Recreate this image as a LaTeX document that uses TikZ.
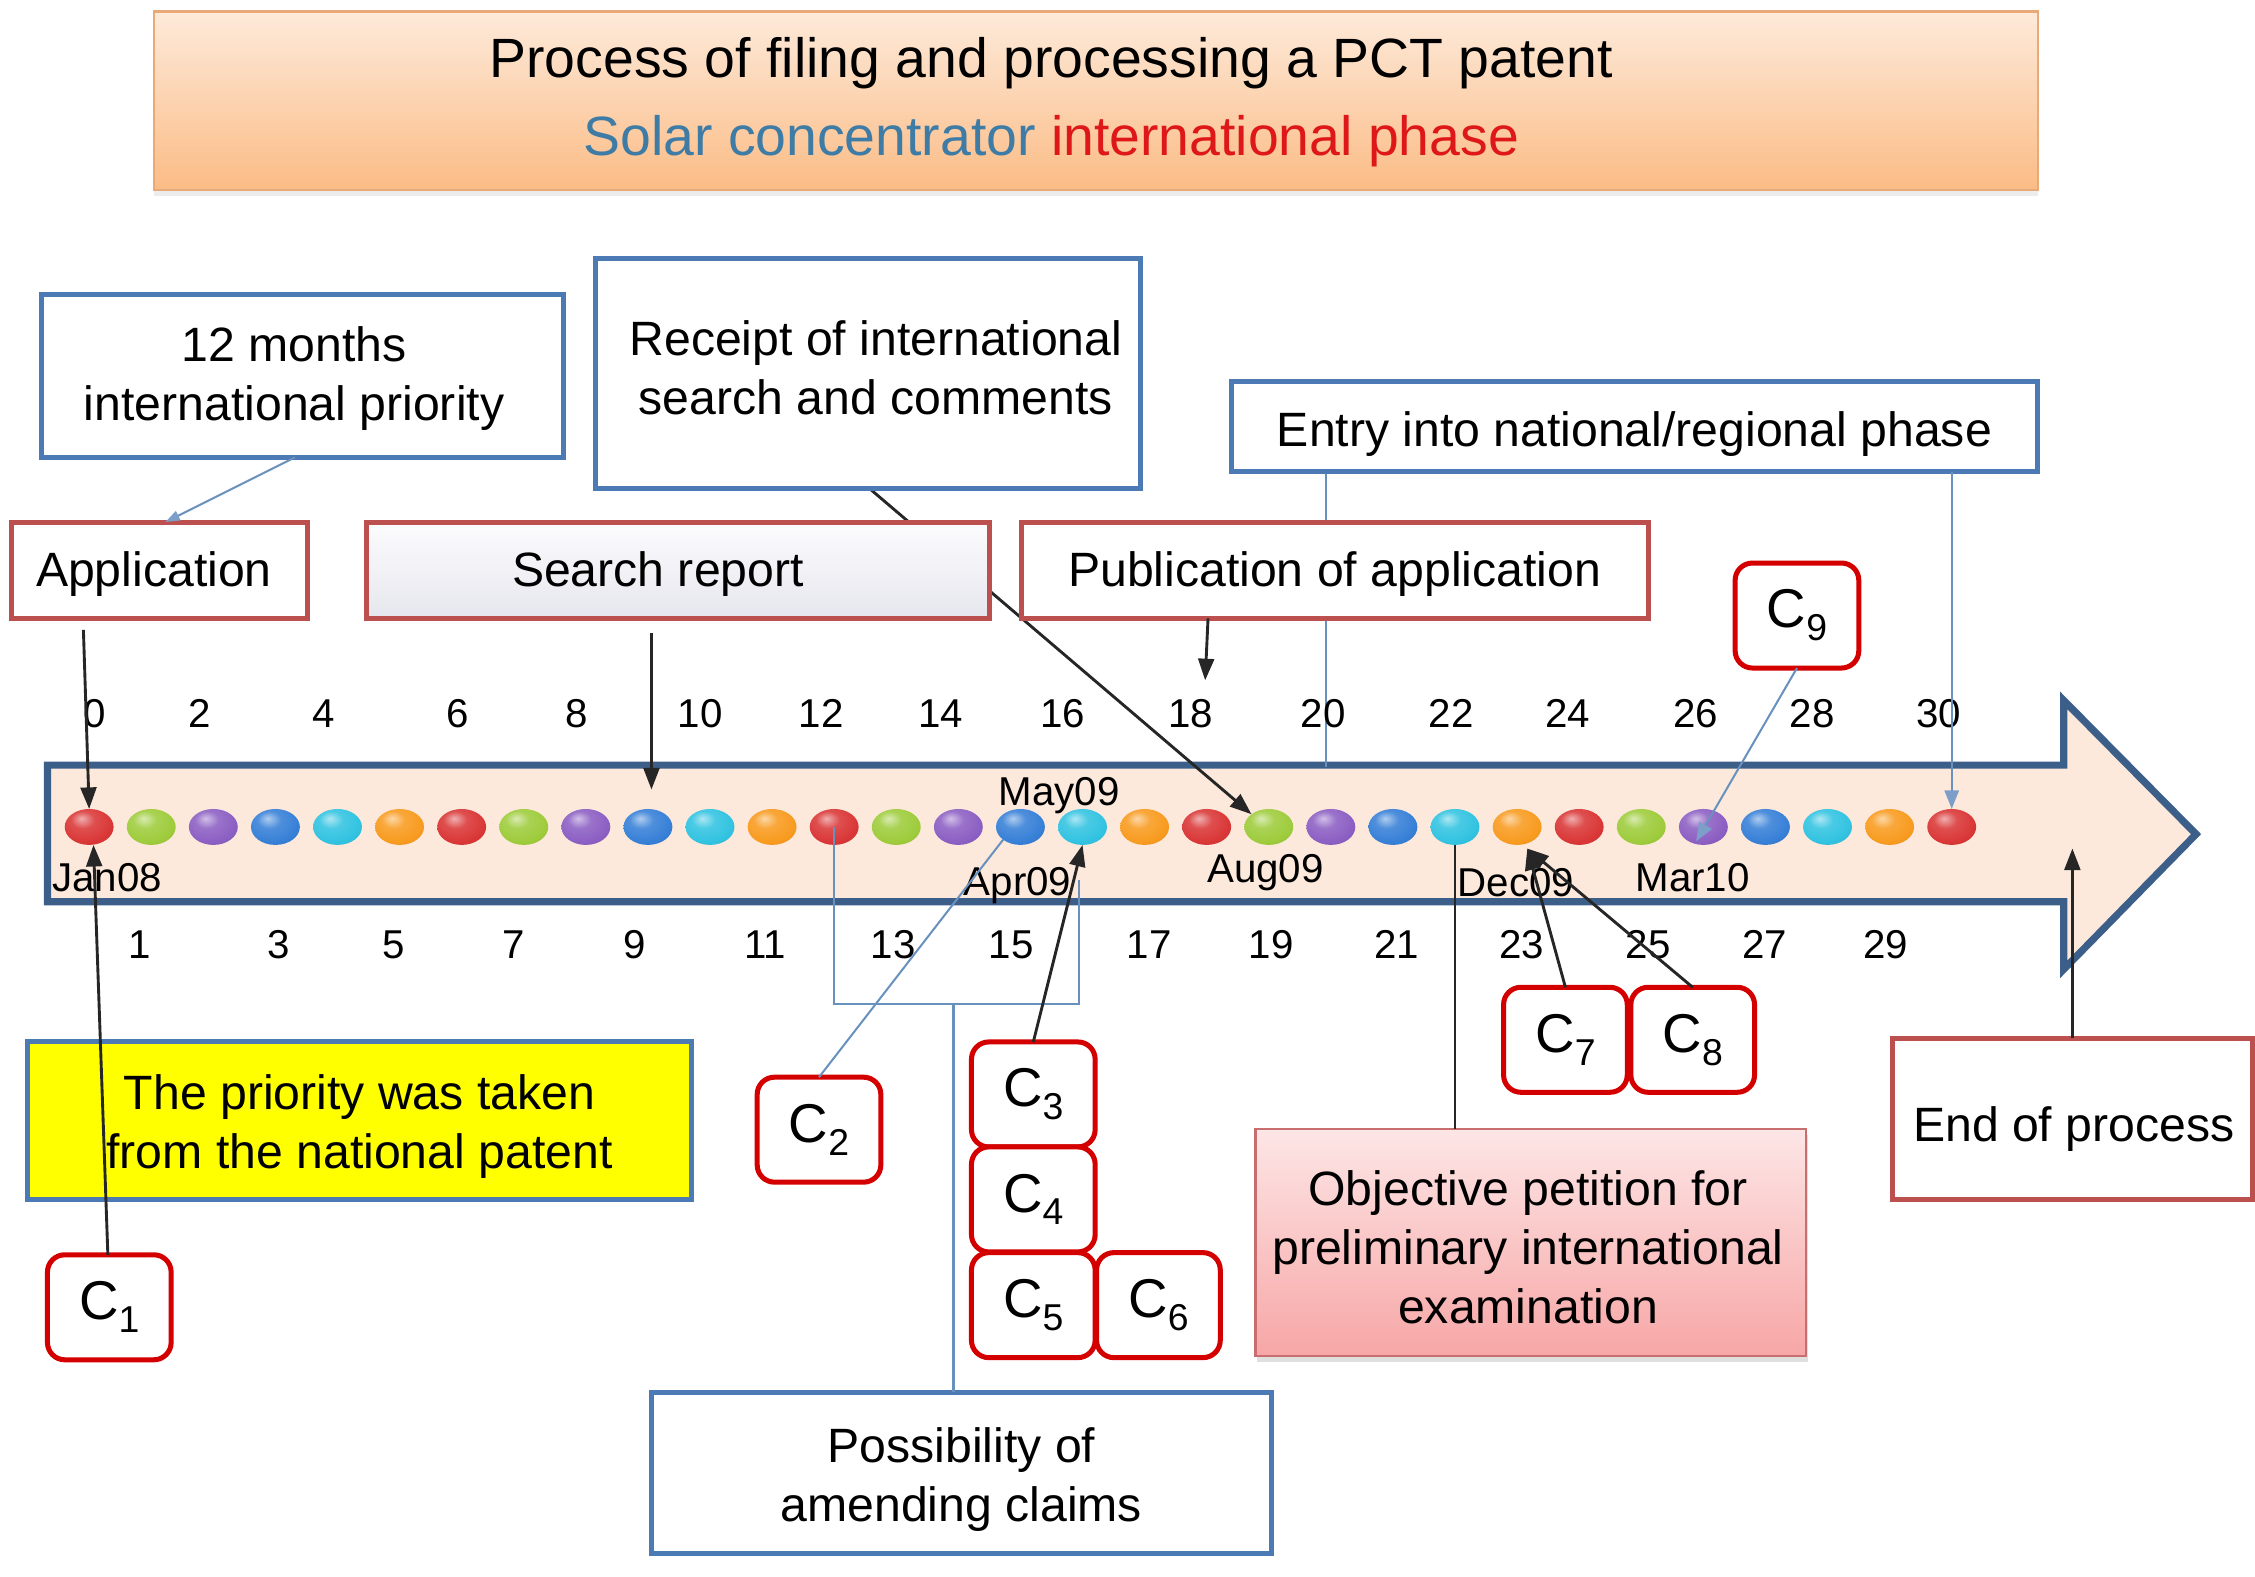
\documentclass[tikz,border=0pt]{standalone}
\usepackage{fontspec}
\setmainfont{Liberation Sans}
\usetikzlibrary{arrows.meta,shapes.geometric,shadows,calc}
\definecolor{boxblue}{RGB}{76,122,180}
\definecolor{boxred}{RGB}{188,80,78}
\definecolor{cred}{RGB}{212,0,0}
\definecolor{arrblue}{RGB}{60,95,138}
\definecolor{arrfill}{RGB}{252,233,220}
\definecolor{thinblue}{RGB}{105,145,190}
\definecolor{headblue}{RGB}{125,158,200}
\definecolor{solarblue}{RGB}{62,124,165}
\definecolor{intred}{RGB}{222,24,24}
\definecolor{ttop}{RGB}{253,234,218}
\definecolor{tbot}{RGB}{251,188,134}
\definecolor{tborder}{RGB}{234,170,120}
\definecolor{ptop}{RGB}{253,230,230}
\definecolor{pbot}{RGB}{247,166,166}
\definecolor{pborder}{RGB}{200,110,110}
\definecolor{stop}{RGB}{252,252,254}
\definecolor{sbot}{RGB}{230,230,238}
\definecolor{bred}{RGB}{218,55,55}
\definecolor{bgreen}{RGB}{158,204,60}
\definecolor{bpurple}{RGB}{140,95,195}
\definecolor{bblue}{RGB}{55,128,215}
\definecolor{bcyan}{RGB}{50,195,225}
\definecolor{borange}{RGB}{248,155,32}
\definecolor{yel}{RGB}{255,255,0}
\colorlet{beadcol}{red}
\pgfdeclareradialshading[beadcol]{beadshade}{\pgfqpoint{-8bp}{12bp}}{%
  color(0bp)=(beadcol!40!white); color(12bp)=(beadcol!88!white); color(28bp)=(beadcol);
  color(44bp)=(beadcol!88!black); color(56bp)=(beadcol!68!black); color(70bp)=(beadcol!68!black)}
\pgfdeclarelayer{back}
\pgfdeclarelayer{lines}
\pgfsetlayers{back,lines,main}
\newcommand{\mybody}{\fontsize{33.5}{41}\selectfont}
\newcommand{\csub}[1]{\raisebox{-9pt}{\fontsize{26}{26}\selectfont #1}}
\begin{document}
\begin{tikzpicture}[x=1pt,y=-1pt,
 every node/.style={inner sep=0pt,outer sep=0pt},
 txt/.style={font=\mybody,align=center},
 bluebox/.style={draw=boxblue,line width=3.5pt,fill=white},
 redbox/.style={draw=boxred,line width=3.5pt,fill=white},
 cbox/.style={draw=cred,line width=3.5pt,fill=white,rounded corners=12pt,minimum width=86pt,minimum height=73pt,font=\fontsize{38}{38}\selectfont},
 bead/.style={ellipse,minimum width=34pt,minimum height=25pt,shade,shading=beadshade},
 num/.style={font=\fontsize{28}{28}\selectfont},
 datelbl/.style={font=\fontsize{28}{28}\selectfont,anchor=base},
 blkarrow/.style={draw=black!85,line width=2pt,-{Triangle[length=15pt,width=11pt]}},
 blkline/.style={draw=black!85,line width=1.5pt},
 blueline/.style={draw=thinblue,line width=1.4pt},
 bluearrow/.style={blueline,-{Triangle[length=13pt,width=10pt,fill=headblue,color=headblue]}},
 bluearrowsmall/.style={blueline,-{Triangle[length=10pt,width=7pt,fill=headblue,color=headblue]}},
]
\useasboundingbox (0,0) rectangle (1568,1096);

% background and timeline arrow
\begin{pgfonlayer}{back}
\fill[white] (0,0) rectangle (1568,1096);
\draw[draw=arrblue,line width=5pt,fill=arrfill,line join=miter] (33,532) -- (1435,532) -- (1435,487) -- (1527,580) -- (1435,674) -- (1435,627) -- (33,627) -- cycle;
\end{pgfonlayer}

% title
\node[draw=tborder,line width=1.5pt,top color=ttop,bottom color=tbot,minimum width=1310pt,minimum height=124pt,
  drop shadow={shadow xshift=0pt,shadow yshift=-4pt,opacity=0.15},
  label={[font=\fontsize{38.5}{54}\selectfont,align=center,xshift=-31pt,yshift=-1pt]center:{Process of filing and processing a PCT patent\\\textcolor{solarblue}{Solar concentrator} \textcolor{intred}{international phase}}}] (title) at (762,70) {};

% upper boxes
\node[bluebox,minimum width=363pt,minimum height=113pt,
  label={[txt,xshift=-6pt,yshift=-2pt]center:{12 months\\international priority}}] (prio) at (210.5,261.5) {};
\node[bluebox,minimum width=379pt,minimum height=160pt,
  label={[txt,xshift=5.5pt,yshift=4.5pt]center:{Receipt of international\\search and comments}}] (receipt) at (603.5,260) {};
\node[bluebox,minimum width=561pt,minimum height=63pt,
  label={[txt,yshift=-5pt]center:{Entry into national/regional phase}}] (entry) at (1136.5,296.5) {};
\node[redbox,minimum width=206pt,minimum height=67pt,
  label={[txt,xshift=-4pt,yshift=-2.5pt]center:{Application}}] (app) at (111,396.5) {};
\node[redbox,top color=stop,bottom color=sbot,minimum width=433pt,minimum height=67pt,
  label={[txt,xshift=-14pt,yshift=-2.5pt]center:{Search report}}] (search) at (471.5,396.5) {};
\node[redbox,minimum width=436pt,minimum height=67pt,
  label={[txt,yshift=-2.5pt]center:{Publication of application}}] (pub) at (928,396.5) {};
\node[cbox] (c9) at (1249.5,428) {C\csub{9}};

% beads
\foreach \i in {0,...,30} {
  \pgfmathtruncatemacro{\m}{mod(\i,6)}
  \pgfmathsetmacro{\bc}{{"bred","bgreen","bpurple","bblue","bcyan","borange"}[\m]}
  \colorlet{beadcol}{\bc}
  \node[bead] (b\i) at ({62+43.17*\i},575) {};
}

% numbers
\foreach \v/\x in {0/66,2/139,4/225,6/318,8/401,10/487,12/571,14/654,16/739,18/828,20/920,22/1009,24/1090,26/1179,28/1260,30/1348}
  \node[num] (n\v) at (\x,496) {\v};
\foreach \v/\x in {1/97,3/194,5/274,7/357,9/441,11/532,13/621,15/703,17/799,19/884,21/971,23/1058,25/1146,27/1227,29/1311}
  \node[num] (n\v) at (\x,657) {\v};

% dates
\node[datelbl] (jan) at (74.5,620) {Jan08};
\node[datelbl] (may) at (736.5,560) {May09};
\node[datelbl] (apr) at (707.5,622.5) {Apr09};
\node[datelbl] (aug) at (880,613.5) {Aug09};
\node[datelbl] (dec) at (1054,623.5) {Dec09};
\node[datelbl] (mar) at (1177,620) {Mar10};

% lower boxes
\node[draw=boxblue,line width=3.5pt,fill=yel,minimum width=462pt,minimum height=110pt,
  label={[txt,yshift=-4.5pt]center:{The priority was taken\\from the national patent}}] (yellow) at (250,779) {};
\node[cbox] (c1) at (76,909) {C\csub{1}};
\node[cbox] (c2) at (569.5,785.5) {C\csub{2}};
\node[cbox] (c3) at (718.5,761) {C\csub{3}};
\node[cbox] (c4) at (718.5,834) {C\csub{4}};
\node[cbox] (c5) at (718.5,907.5) {C\csub{5}};
\node[cbox] (c6) at (805.5,907.5) {C\csub{6}};
\node[cbox] (c7) at (1088.5,723) {C\csub{7}};
\node[cbox] (c8) at (1177,723) {C\csub{8}};
\node[bluebox,minimum width=431pt,minimum height=112pt,
  label={[txt,yshift=-5pt]center:{Possibility of\\amending claims}}] (poss) at (668.5,1024) {};
\node[draw=pborder,line width=1.5pt,top color=ptop,bottom color=pbot,minimum width=383pt,minimum height=158pt,
  drop shadow={shadow xshift=1pt,shadow yshift=-4pt,opacity=0.25},
  label={[txt,yshift=-3pt,xshift=-2pt]center:{Objective petition for\\preliminary international\\examination}}] (pet) at (1064.5,864) {};
\node[redbox,minimum width=250pt,minimum height=112pt,
  label={[txt,yshift=-7pt,xshift=1pt]center:{End of process}}] (endp) at (1441,778) {};

% coordinates
\coordinate (srtip) at (453,549);
\coordinate (pubtip) at (838,473);
\coordinate (t20) at (922,533);
\coordinate (brk) at (663,698);
\coordinate (brR) at (750,612);
\coordinate (dectip) at (1062,590);
\coordinate (endtip) at (1441,590);

% connectors behind boxes
\begin{pgfonlayer}{lines}
\draw[blkarrow] ([xshift=1.5pt]receipt.south) -- (b19.north west);
\draw[blueline] (entry.south -| t20) -- (t20);
\end{pgfonlayer}

% connectors
\draw[bluearrowsmall] ([xshift=-5.5pt]prio.south) -- ([xshift=4pt]app.north);
\draw[blkarrow] ([xshift=-53pt,yshift=-8pt]app.south) -- (b0.north);
\draw[blkarrow] ([xshift=-18.5pt,yshift=-10pt]search.south) -- (srtip);
\draw[blkarrow] ([xshift=-88pt]pub.south) -- (pubtip);
\draw[bluearrow] (c9.south) -- ([xshift=-5pt,yshift=-10pt]b26.center);
\draw[bluearrow] (entry.south -| b30.north) -- (b30.north);
\draw[blkarrow] ([xshift=-1pt]c1.north) -- ([xshift=3pt]b0.south);
\draw[blueline] (c2.north) -- (b15.south west);
\draw[blueline] (b12.center) |- (brR |- brk) -- (brR);
\draw[blueline] (brk) -- (brk |- poss.north);
\draw[blkarrow] (c3.north) -- (b16.south);
\draw[blkline] (b22.south) -- (b22.south |- pet.north);
\draw[blkarrow] (c7.north) -- (dectip);
\draw[blkarrow] (c8.north) -- (dectip);
\draw[blkarrow] (endp.north) -- (endtip);
\end{tikzpicture}
\end{document}
